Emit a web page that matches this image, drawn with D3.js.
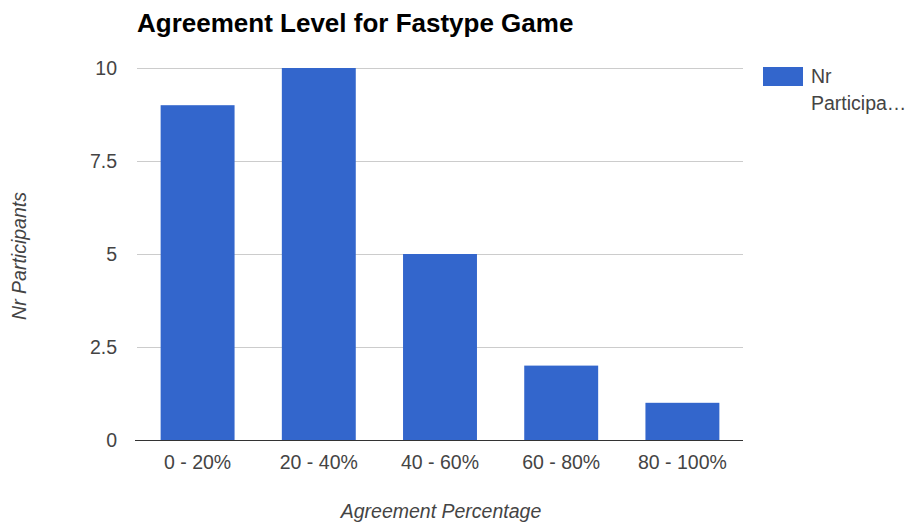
<!DOCTYPE html>
<html>
<head>
<meta charset="utf-8">
<script src="https://cdn.jsdelivr.net/npm/d3@7"></script>
<style>
  html, body { margin: 0; padding: 0; background: #fff; }
  svg { display: block; font-family: Arial, "Liberation Sans", sans-serif; }
</style>
</head>
<body>
<script>
// Agreement level buckets and number of participants in each
const categories = ["0 - 20%", "20 - 40%", "40 - 60%", "60 - 80%", "80 - 100%"];
const participants = [9, 10, 5, 2, 1];
const yTicks = [0, 2.5, 5, 7.5, 10];
const seriesName = "Nr Participants";

const W = 908, H = 523;
const margin = { left: 137, right: 165, top: 68, bottom: 83 };
const labelSize = 19.5;

const svg = d3.select("body").append("svg").attr("width", W).attr("height", H);

const x = d3.scaleBand()
  .domain(categories)
  .range([margin.left, W - margin.right])
  .paddingInner(0.39)
  .paddingOuter(0.195);

const y = d3.scaleLinear()
  .domain([0, 10])
  .range([H - margin.bottom, margin.top]);

// Horizontal gridlines
svg.append("g")
  .selectAll("line")
  .data(yTicks.filter(d => d !== 0))
  .join("line")
  .attr("x1", margin.left).attr("x2", W - margin.right)
  .attr("y1", d => Math.round(y(d)) + 0.5).attr("y2", d => Math.round(y(d)) + 0.5)
  .attr("stroke", "#cccccc");

// Y tick labels
svg.append("g")
  .selectAll("text")
  .data(yTicks)
  .join("text")
  .attr("x", 117)
  .attr("y", d => y(d) + 7)
  .attr("text-anchor", "end")
  .attr("font-size", labelSize)
  .attr("fill", "#444")
  .text(d => d);

// Bars
svg.append("g")
  .selectAll("rect")
  .data(participants)
  .join("rect")
  .attr("x", (d, i) => x(categories[i]))
  .attr("width", x.bandwidth())
  .attr("y", d => y(d))
  .attr("height", d => y(0) - y(d))
  .attr("fill", "#3366cc");

// Baseline
svg.append("line")
  .attr("x1", margin.left - 2).attr("x2", W - margin.right)
  .attr("y1", y(0) + 0.5).attr("y2", y(0) + 0.5)
  .attr("stroke", "#333").attr("stroke-width", 1);

// X tick labels
svg.append("g")
  .selectAll("text")
  .data(categories)
  .join("text")
  .attr("x", d => x(d) + x.bandwidth() / 2)
  .attr("y", 469)
  .attr("text-anchor", "middle")
  .attr("font-size", labelSize)
  .attr("fill", "#444")
  .text(d => d);

// Title
svg.append("text")
  .attr("x", 137).attr("y", 32)
  .attr("font-size", 26)
  .attr("font-weight", "bold")
  .attr("fill", "#000")
  .text("Agreement Level for Fastype Game");

// Axis titles
svg.append("text")
  .attr("x", 441)
  .attr("y", 518)
  .attr("text-anchor", "middle")
  .attr("font-size", labelSize)
  .attr("font-style", "italic")
  .attr("fill", "#444")
  .text("Agreement Percentage");

svg.append("text")
  .attr("transform", "translate(26,256) rotate(-90)")
  .attr("text-anchor", "middle")
  .attr("font-size", labelSize)
  .attr("font-style", "italic")
  .attr("fill", "#444")
  .text("Nr Participants");

// Legend
const legend = svg.append("g");
legend.append("rect")
  .attr("x", 763).attr("y", 67)
  .attr("width", 40).attr("height", 19)
  .attr("fill", "#3366cc");
legend.append("text")
  .attr("x", 811).attr("y", 83)
  .attr("font-size", labelSize).attr("fill", "#444")
  .text("Nr");
legend.append("text")
  .attr("x", 811).attr("y", 110)
  .attr("font-size", labelSize).attr("fill", "#444")
  .text("Participa…");
legend.append("title").text(seriesName);
</script>
</body>
</html>
